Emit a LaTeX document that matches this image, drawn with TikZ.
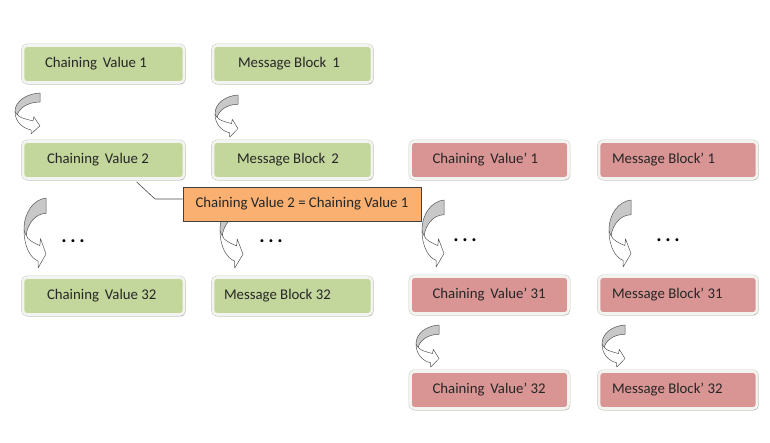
\documentclass[tikz,border=0pt]{standalone}
\usepackage{fontspec}
\setmainfont{Carlito}
\usetikzlibrary{shadows}
\definecolor{grn}{HTML}{C3D69B}
\definecolor{rd}{HTML}{D99594}
\definecolor{org}{HTML}{F9B070}
\definecolor{rim}{HTML}{F3F4F0}
\definecolor{rimout}{HTML}{C9CCC4}
\definecolor{agray}{HTML}{C8C8C8}
\definecolor{aline}{HTML}{555555}
\definecolor{txt}{HTML}{262626}
\newcommand{\bx}[2]{\makebox[#1][l]{#2}}
\newcommand{\dsp}{\kern2.5pt\ }
\tikzset{
  box/.style={rounded corners=4pt, fill=#1, draw=rim, line width=2.6pt,
    preaction={draw=rimout, line width=3.6pt},
    drop shadow={shadow xshift=1pt, shadow yshift=-1.8pt, opacity=0.35, fill=black!60},
    minimum height=37pt, inner ysep=0pt, text=txt,
    font=\fontsize{14.8}{16}\selectfont, anchor=center},
  callout/.style={fill=org, draw=black!75, line width=0.7pt, minimum width=238pt,
    minimum height=34pt, inner sep=0pt, text=txt, font=\fontsize{14.8}{16}\selectfont},
  dotsnode/.style={font=\fontsize{20}{20}\selectfont\bfseries, text=black, inner sep=0pt},
  leader/.style={draw=black!70, line width=0.6pt},
  curvarrow/.pic={
    \filldraw[fill=white, draw=aline, line width=0.5pt, line join=round]
      (0,0.45) .. controls (0,0.7) and (0.3,0.86) .. (0.64,0.9)
      -- (0.64,1) -- (1,0.8) -- (0.75,0.58) -- (0.72,0.68)
      .. controls (0.45,0.64) and (0.15,0.6) .. (0.1,0.53) -- cycle;
    \filldraw[fill=agray, draw=aline, line width=0.5pt, line join=round]
      (1,0) .. controls (0.45,0.02) and (0,0.2) .. (0,0.45)
      .. controls (0.03,0.5) and (0.07,0.52) .. (0.1,0.53)
      .. controls (0.15,0.38) and (0.5,0.22) .. (1,0.22) -- cycle;
  }
}
\begin{document}
\begin{tikzpicture}[x=1pt,y=-1pt]
\useasboundingbox (0,0) rectangle (770,442);
\fill[white] (0,0) rectangle (770,442);

% green column 1
\node[box=grn, inner xsep=22pt] (cv1) at (103.5,64) {\bx{117pt}{Chaining\dsp Value 1}};
\node[box=grn, inner xsep=24pt] (cv2) at (103.5,160) {\bx{113pt}{Chaining\dsp Value 2}};
\node[box=grn, inner xsep=24pt] (cv32) at (103.5,296) {\bx{113pt}{Chaining\dsp Value 32}};
% green column 2
\node[box=grn, inner xsep=25pt] (mb1) at (292.5,64) {\bx{109pt}{Message Block\dsp 1}};
\node[box=grn, inner xsep=24pt] (mb2) at (292.5,160) {\bx{111pt}{Message Block\dsp 2}};
\node[box=grn, inner xsep=11pt] (mb32) at (292.5,296) {\bx{137pt}{Message Block 32}};
% red column 3
\node[box=rd, inner xsep=22pt] (cvp1) at (489.5,160) {\bx{114pt}{Chaining\dsp Value’ 1}};
\node[box=rd, inner xsep=22pt] (cvp31) at (489.5,295) {\bx{114pt}{Chaining\dsp Value’ 31}};
\node[box=rd, inner xsep=22pt] (cvp32) at (489.5,390) {\bx{114pt}{Chaining\dsp Value’ 32}};
% red column 4
\node[box=rd, inner xsep=13pt] (mbp1) at (678,160) {\bx{132pt}{Message Block’ 1}};
\node[box=rd, inner xsep=13pt] (mbp31) at (678,295) {\bx{132pt}{Message Block’ 31}};
\node[box=rd, inner xsep=13pt] (mbp32) at (678,390) {\bx{132pt}{Message Block’ 32}};

% curved arrows
\pic[xscale=25,yscale=41] at (15,93) {curvarrow};
\pic[xscale=23,yscale=42] at (215,95) {curvarrow};
\pic[xscale=22,yscale=70] at (24,198) {curvarrow};
\pic[xscale=23,yscale=69] at (220,199) {curvarrow};
\pic[xscale=22,yscale=67] at (422,200) {curvarrow};
\pic[xscale=22,yscale=67] at (609,200) {curvarrow};
\pic[xscale=23,yscale=42] at (416,325) {curvarrow};
\pic[xscale=23,yscale=42] at (602,325) {curvarrow};

% dots
\node[dotsnode] (d1) at (73,241) {.\kern3.6pt.\kern3.6pt.};
\node[dotsnode] (d2) at (271,241) {.\kern3.6pt.\kern3.6pt.};
\node[dotsnode] (d3) at (465,240) {.\kern3.6pt.\kern3.6pt.};
\node[dotsnode] (d4) at (668,240) {.\kern3.6pt.\kern3.6pt.};

% callout
\node[callout] (eq) at (302,204) {Chaining Value 2 = Chaining Value 1};
\coordinate (ls) at ([xshift=33pt,yshift=-2pt]cv2.south);
\coordinate (lk) at (155,199);
\draw[leader] (ls) -- (lk) -- ([yshift=5pt]eq.west);
\end{tikzpicture}
\end{document}
